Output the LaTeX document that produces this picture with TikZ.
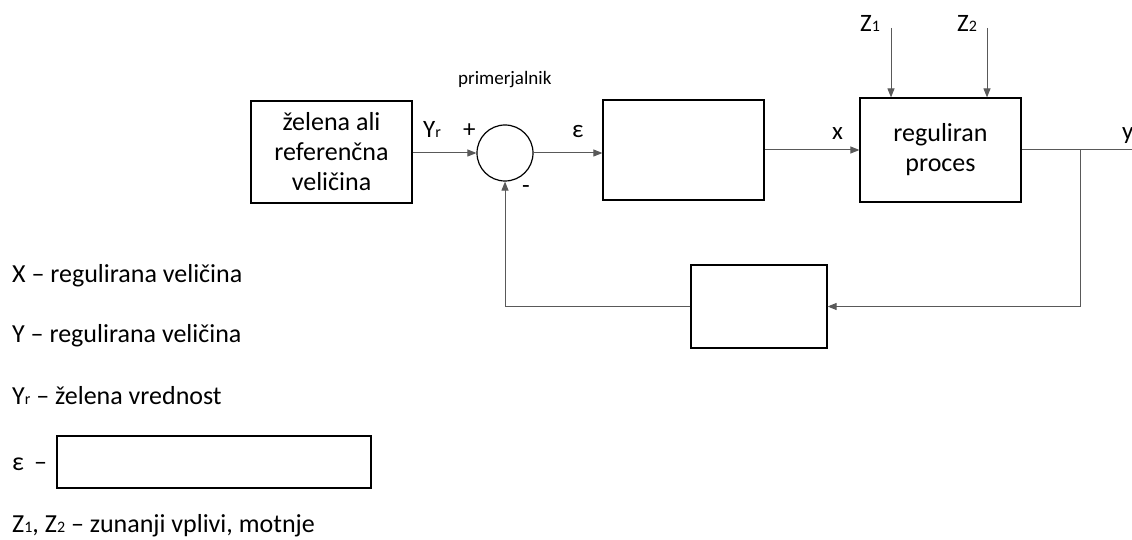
\documentclass[tikz,border=0pt]{standalone}
\usepackage{fontspec}
\setmainfont{Carlito}
\usetikzlibrary{arrows.meta}
\newcommand{\lowsub}[1]{{\fontsize{16}{16}\selectfont #1}}
\begin{document}
\begin{tikzpicture}[x=1pt,y=-1pt,
  blk/.style={draw=black,line width=1.2pt,inner sep=0pt,align=center,font=\fontsize{26}{30}\selectfont},
  conn/.style={draw=black!65,line width=1pt},
  arr/.style={conn,-{Triangle[length=9pt,width=7pt]}},
  lbl/.style={anchor=base west,inner sep=0pt,font=\fontsize{25}{28}\selectfont},
  leg/.style={anchor=base west,inner sep=0pt,font=\fontsize{26}{30}\selectfont}]
\useasboundingbox (0,0) rectangle (1132,540);
% blocks
\node[blk,minimum width=161pt,minimum height=102pt] (ref) at (331.5,152) {želena ali\\referenčna\\veličina};
\node[draw=black,line width=1.2pt,circle,minimum size=56pt,inner sep=0pt] (cmp) at (505,153) {};
\node[blk,minimum width=161pt,minimum height=100pt] (reg) at (683.5,150) {};
\node[blk,minimum width=161pt,minimum height=104pt] (proc) at (940.5,150) {reguliran\\proces};
\node[blk,minimum width=136pt,minimum height=83pt] (fb) at (759,306.5) {};
% coordinates
\coordinate (z1top) at (891,28);
\coordinate (z2top) at (987,28);
\coordinate (yend) at (1132,150);
\coordinate (br) at (1080,150);
% connectors
\draw[arr] (ref.east |- cmp) -- (cmp.west);
\draw[arr] (cmp.east) -- (reg.west |- cmp);
\draw[arr] (reg.east) -- (proc.west);
\draw[arr] (z1top) -- (z1top |- proc.north);
\draw[arr] (z2top) -- (z2top |- proc.north);
\draw[conn] (proc.east) -- (yend);
\draw[arr] (br) |- (fb.east);
\draw[arr] (fb.west) -| (cmp.south);
% labels
\node[anchor=base west,inner sep=0pt,font=\fontsize{19}{22}\selectfont] (plab) at (458,85) {primerjalnik};
\node[lbl] (yrlab) at (423,138) {Y\lowsub{r}};
\node[lbl] (plus) at (463,138) {+};
\node[lbl] (minus) at (522,194) {-};
\node[lbl] (elab) at (572,138) {ε};
\node[lbl] (xlab) at (832,140) {x};
\node[lbl] (ylab) at (1122,140) {y};
\node[lbl] (z1lab) at (860,32) {Z\lowsub{1}};
\node[lbl] (z2lab) at (957,32) {Z\lowsub{2}};
% legend
\node[leg] (l1) at (12,282) {X – regulirana veličina};
\node[leg] (l2) at (12,342) {Y – regulirana veličina};
\node[leg] (l3) at (12,404) {Y\lowsub{r} – želena vrednost};
\node[leg] (l4) at (12,470) {ε \,–};
\node[draw=black,line width=1.2pt,minimum width=314pt,minimum height=52pt,inner sep=0pt] (ebox) at (214,462) {};
\node[leg] (l5) at (12,532) {Z\lowsub{1}, Z\lowsub{2} – zunanji vplivi, motnje};
\end{tikzpicture}
\end{document}
